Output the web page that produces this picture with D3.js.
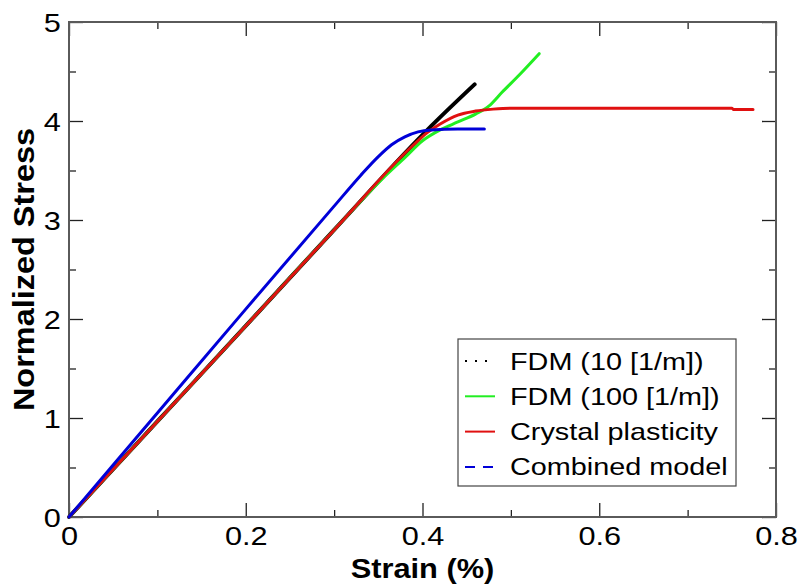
<!DOCTYPE html>
<html>
<head>
<meta charset="utf-8">
<script src="https://cdn.jsdelivr.net/npm/d3@7/dist/d3.min.js"></script>
<style>
  body { margin: 0; background: #fff; }
  svg { display: block; font-family: "Liberation Sans", Arial, sans-serif; }
</style>
</head>
<body>
<div id="chart"></div>
<script>
// Data (strain %, normalized stress)
var fdm10 = [[0, 0], [0.1, 0.965], [0.2, 1.93], [0.3, 2.9], [0.4, 3.86], [0.41, 3.95], [0.459, 4.37]]
var fdm100 = [[0, 0], [0.1, 0.965], [0.2, 1.93], [0.3, 2.9], [0.355, 3.42], [0.38, 3.63],
  [0.4, 3.8], [0.42, 3.91], [0.44, 3.99], [0.46, 4.07], [0.475, 4.15], [0.49, 4.29],
  [0.51, 4.47], [0.532, 4.68]]
var crystal = [[0, 0], [0.1, 0.965], [0.2, 1.93], [0.3, 2.9], [0.39, 3.76], [0.405, 3.88],
  [0.42, 3.97], [0.44, 4.06], [0.46, 4.1], [0.48, 4.12], [0.5, 4.13], [0.6, 4.13],
  [0.7, 4.13], [0.75, 4.13], [0.752, 4.115], [0.774, 4.115]]
var combined = [[0, 0], [0.1, 1.05], [0.2, 2.1], [0.3, 3.14], [0.33, 3.45], [0.35, 3.64],
  [0.365, 3.76], [0.38, 3.84], [0.395, 3.89], [0.41, 3.91], [0.44, 3.92], [0.47, 3.92]]

var seriesNames = ["FDM (10 [1/m])", "FDM (100 [1/m])", "Crystal plasticity", "Combined model"]
var seriesColors = ["#000000", "#22ee22", "#e01010", "#0000d8"]
var xMajor = [0, 0.2, 0.4, 0.6, 0.8]
var xMinor = [0.1, 0.3, 0.5, 0.7]
var yMajor = [0, 1, 2, 3, 4, 5]
var yMinor = [0.5, 1.5, 2.5, 3.5, 4.5]

var W = 802, H = 587
var margin = {top: 22, right: 26, bottom: 70, left: 69},
    width = W - margin.left - margin.right,
    height = H - margin.top - margin.bottom

var svg = d3.select("#chart").append("svg")
  .attr("width", W).attr("height", H)

var g = svg.append("g")
  .attr("transform", "translate(" + margin.left + "," + margin.top + ")")

var x = d3.scaleLinear().domain([0, 0.8]).range([0, width])
var y = d3.scaleLinear().domain([0, 5]).range([height, 0])

var axisColor = "#5a5a5a"

// Axes: major ticks with labels, minor ticks without, all pointing inward
function styleAxis(sel) {
  sel.select(".domain").remove()
  sel.selectAll(".tick line").attr("stroke", "#222").attr("stroke-width", 1.3)
}

g.append("g")
  .attr("transform", "translate(0," + height + ")")
  .call(d3.axisBottom(x).tickValues(xMajor).tickSize(-14)
    .tickFormat(function(d) { return d === 0 ? "0" : d3.format(".1f")(d) }))
  .call(styleAxis)
  .selectAll("text")
  .attr("font-size", 26).attr("fill", "#000").attr("y", 0)
  .attr("dy", 0)
  .attr("transform", "translate(0,28) scale(1.18,1)")

g.append("g")
  .attr("transform", "translate(0," + height + ")")
  .call(d3.axisBottom(x).tickValues(xMinor).tickSize(-7).tickFormat(""))
  .call(styleAxis)

g.append("g")
  .call(d3.axisTop(x).tickValues(xMajor).tickSize(-14).tickFormat(""))
  .call(styleAxis)
g.append("g")
  .call(d3.axisTop(x).tickValues(xMinor).tickSize(-7).tickFormat(""))
  .call(styleAxis)

g.append("g")
  .call(d3.axisLeft(y).tickValues(yMajor).tickSize(-14).tickPadding(7)
    .tickFormat(d3.format("d")))
  .call(styleAxis)
  .selectAll("text")
  .attr("font-size", 26).attr("fill", "#000")
  .attr("dy", "0.36em")
  .attr("transform", "scale(1.18,1)")

g.append("g")
  .call(d3.axisLeft(y).tickValues(yMinor).tickSize(-7).tickFormat(""))
  .call(styleAxis)

g.append("g")
  .attr("transform", "translate(" + width + ",0)")
  .call(d3.axisRight(y).tickValues(yMajor).tickSize(-14).tickFormat(""))
  .call(styleAxis)
g.append("g")
  .attr("transform", "translate(" + width + ",0)")
  .call(d3.axisRight(y).tickValues(yMinor).tickSize(-7).tickFormat(""))
  .call(styleAxis)

// Frame
g.append("rect")
  .attr("width", width).attr("height", height)
  .attr("fill", "none").attr("stroke", axisColor).attr("stroke-width", 2)

// Lines
var line = d3.line()
  .x(function(d) { return x(d[0]) })
  .y(function(d) { return y(d[1]) })
  .curve(d3.curveMonotoneX)

var allSeries = [fdm10, fdm100, crystal, combined]
var widths = [4, 3, 3, 3]

allSeries.forEach(function(s, i) {
  g.append("path")
    .datum(s)
    .attr("d", line)
    .attr("fill", "none")
    .attr("stroke", seriesColors[i])
    .attr("stroke-width", widths[i])
    .attr("stroke-linejoin", "round")
    .attr("stroke-linecap", "round")
})

// Axis titles
svg.append("text")
  .attr("transform", "translate(" + (margin.left + width / 2) + ",578) scale(1.1,1)")
  .attr("text-anchor", "middle")
  .attr("font-size", 28).attr("font-weight", "bold")
  .text("Strain (%)")

svg.append("text")
  .attr("transform", "translate(34," + (margin.top + height / 2) + ") rotate(-90) scale(1.12,1)")
  .attr("text-anchor", "middle")
  .attr("font-size", 29).attr("font-weight", "bold")
  .text("Normalized Stress")

// Legend
var legend = svg.append("g").attr("transform", "translate(458,339)")
legend.append("rect")
  .attr("width", 278).attr("height", 147)
  .attr("fill", "#fff").attr("stroke", "#444").attr("stroke-width", 1.2)

var dashes = ["2,8", null, null, "10,8"]
seriesNames.forEach(function(name, i) {
  var cy = 22 + i * 35.3
  legend.append("line")
    .attr("x1", 7).attr("x2", 37)
    .attr("y1", cy).attr("y2", cy)
    .attr("stroke", seriesColors[i])
    .attr("stroke-width", 2)
    .attr("stroke-dasharray", dashes[i])
  legend.append("text")
    .attr("transform", "translate(52," + (cy + 8.5) + ") scale(1.2,1)")
    .attr("font-size", 24)
    .text(name)
})
</script>
</body>
</html>
